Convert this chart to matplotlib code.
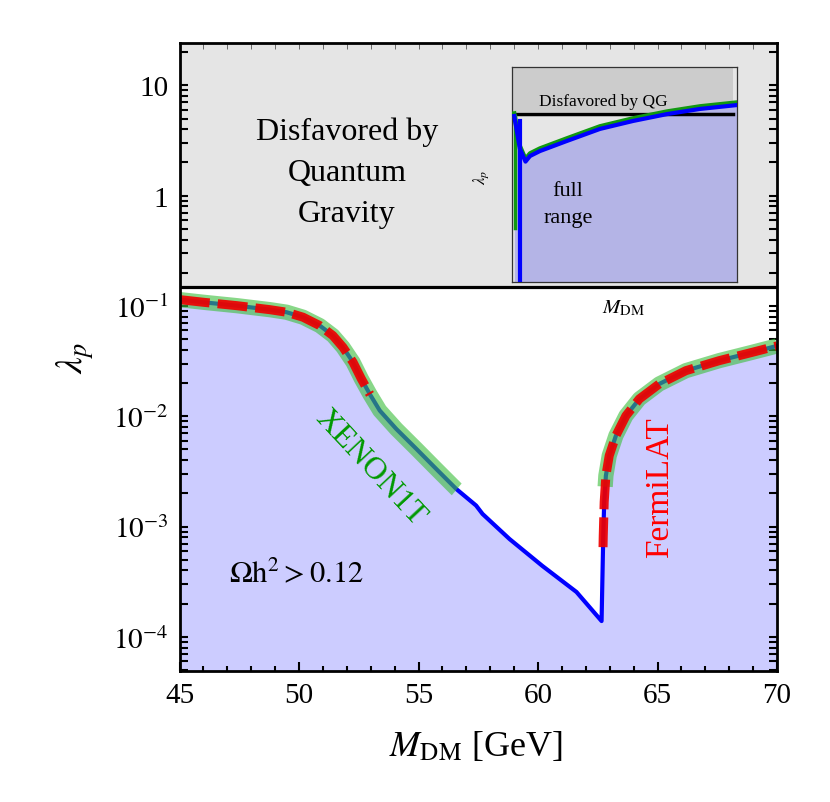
import numpy as np
import matplotlib
matplotlib.use("Agg")
import matplotlib.pyplot as plt
from matplotlib.ticker import FixedLocator, FixedFormatter, LogLocator, NullFormatter, MultipleLocator

plt.rcParams['font.family'] = ['Liberation Serif', 'DejaVu Serif']
plt.rcParams['mathtext.fontset'] = 'stix'

# ---------------- data ----------------
# relic-density boundary (blue curve)
M_DM = [45.02, 45.99, 47.39, 48.78, 49.48, 50.17, 50.87, 51.42, 51.84, 52.26,
        52.61, 52.96, 53.38, 54.07, 54.91, 55.74, 56.58, 57.41, 57.68, 58.81,
        60.18, 61.61, 62.66, 62.73, 62.77, 62.84, 62.98, 63.26, 63.68, 64.24,
        65.07, 66.19, 67.58, 68.97, 70.0]
lam_p = [0.114, 0.108, 0.1006, 0.0925, 0.0877, 0.0790, 0.0663, 0.0538, 0.0422, 0.0309,
         0.0218, 0.0159, 0.01125, 0.00767, 0.00506, 0.00333, 0.00219, 0.00155, 0.0013, 0.00077,
         0.00044, 0.000255, 0.000139, 0.00082, 0.00167, 0.00289, 0.00439, 0.00667, 0.0101, 0.01435,
         0.0196, 0.0259, 0.0319, 0.0380, 0.0434]

qg_bound = 0.148            # quantum-gravity bound on lambda_p
xenon_left_end = 56.6       # XENON1T band ends (left branch), GeV
xenon_right_start = 2.3e-3  # XENON1T band starts (right branch), lambda_p
fermi_left_end = 52.97      # FermiLAT dashed ends (left branch), GeV
fermi_right_start = 6.5e-4  # FermiLAT dashed starts (right branch), lambda_p

x_ticks = [45, 50, 55, 60, 65, 70]
y_ticks = [1e-4, 1e-3, 1e-2, 1e-1, 1, 10]
y_tick_labels = [r'$10^{-4}$', r'$10^{-3}$', r'$10^{-2}$', r'$10^{-1}$', '1', '10']
x_lim = (45, 70)
y_lim = (4.9e-5, 24.2)

# inset (schematic, full range)
inset_x = [0.01, 0.035, 0.06, 0.08, 0.124, 0.244, 0.391, 0.538, 0.689, 0.836, 1.0]
inset_y = [0.772, 0.62, 0.56, 0.586, 0.609, 0.656, 0.712, 0.749, 0.781, 0.805, 0.823]
inset_spike_x = [0.035, 0.035]
inset_spike_y = [0.0, 0.75]
inset_qg = 0.79

# ---------------- helpers ----------------
M = np.array(M_DM)
L = np.array(lam_p)
iv = int(np.argmin(L))


def left_segment(cut):
    m, l = M[:iv + 1], L[:iv + 1]
    keep = m < cut
    lc = 10 ** np.interp(cut, m, np.log10(l))
    return np.append(m[keep], cut), np.append(l[keep], lc)


def right_segment(start):
    m, l = M[iv:], L[iv:]
    keep = l > start
    mc = np.interp(np.log10(start), np.log10(l), m)
    return np.insert(m[keep], 0, mc), np.insert(l[keep], 0, start)


W, H = 830, 803


def fpos(x, y):
    return x / W, 1 - y / H


# ---------------- figure ----------------
fig = plt.figure(figsize=(W / 100, H / 100), dpi=100)
l0, r0, t0, b0 = 179.5, 777, 44, 672
ax = fig.add_axes([l0 / W, 1 - b0 / H, (r0 - l0) / W, (b0 - t0) / H])
ax.set_yscale('log')
ax.set_xlim(*x_lim)
ax.set_ylim(*y_lim)

# regions
ax.axhspan(qg_bound, y_lim[1], color='#E5E5E5', zorder=0, lw=0)
ax.fill_between(M, L, y_lim[0], color='#CCCCFF', lw=0, zorder=1)
ax.axhline(qg_bound, color='black', lw=2.3, zorder=3)

# curves
ax.plot(M, L, color='#0000FF', lw=3.0, zorder=4, solid_joinstyle='round')
green = dict(color='#3FBF3F', alpha=0.62, lw=11, zorder=5, solid_capstyle='butt',
             solid_joinstyle='round')
xm, xl = left_segment(xenon_left_end)
ax.plot(xm, xl, **green)
xm, xl = right_segment(xenon_right_start)
ax.plot(xm, xl, **green)
red = dict(color='#EE0000', alpha=0.92, lw=6.5, zorder=6, dash_capstyle='butt',
           dash_joinstyle='round', linestyle=(0, (3.3, 0.9)))
fm, fl = left_segment(fermi_left_end)
ax.plot(fm, fl, **red)
fm, fl = right_segment(fermi_right_start)
ax.plot(fm, fl, **red)

# ticks
ax.xaxis.set_major_locator(FixedLocator(x_ticks))
ax.xaxis.set_minor_locator(MultipleLocator(1))
ax.yaxis.set_major_locator(FixedLocator(y_ticks))
ax.yaxis.set_major_formatter(FixedFormatter(y_tick_labels))
ax.yaxis.set_minor_locator(LogLocator(base=10, subs=np.arange(2, 10), numticks=100))
ax.yaxis.set_minor_formatter(NullFormatter())
ax.tick_params(axis='both', which='both', direction='in', width=1.5, labelsize=21,
               colors='black')
ax.tick_params(axis='y', which='both', length=6, left=True, right=True, pad=8)
ax.tick_params(axis='x', which='major', length=6.5, top=False, pad=8)
ax.tick_params(axis='x', which='minor', length=3.8, top=False)
for s in ax.spines.values():
    s.set_linewidth(2.0)
    s.set_zorder(10)

sec = ax.secondary_xaxis('top')
sec.xaxis.set_major_locator(MultipleLocator(1))
sec.tick_params(direction='in', length=4, width=0.6, labeltop=False, colors='#555555')
sec.spines['top'].set_visible(False)

# labels
fig.text(*fpos(75, 358), r'$\lambda_p$', fontsize=27, rotation=90, ha='center', va='center')
fig.text(*fpos(476, 747), r'$M_{\rm DM}$ [GeV]', fontsize=26, ha='center', va='center')

# annotations
for txt, y in [('Disfavored by', 132), ('Quantum', 174), ('Gravity', 215)]:
    fig.text(*fpos(347, y), txt, fontsize=23, ha='center', va='center')
fig.text(*fpos(296, 574), r'$\Omega\mathrm{h}^2 > 0.12$', fontsize=22, ha='center', va='center')
fig.text(*fpos(370, 468), 'XENON1T', fontsize=23, color='#009900', rotation=-47,
         ha='center', va='center', rotation_mode='anchor')
fig.text(*fpos(660, 488), 'FermiLAT', fontsize=24, color='#FF0000', rotation=90,
         ha='center', va='center')

# ---------------- inset ----------------
ix0, ix1, iy0, iy1 = 512, 737, 68, 283
axi = fig.add_axes([ix0 / W, 1 - iy1 / H, (ix1 - ix0) / W, (iy1 - iy0) / H])
axi.set_xlim(0, 1)
axi.set_ylim(0, 1)
axi.set_facecolor('#E6E6E6')
axi.axhspan(inset_qg, 1, xmax=0.98, color='#CCCCCC', lw=0, zorder=0)
axi.fill_between(inset_x, inset_y, 0, color='#B4B4E6', lw=0, zorder=1)
axi.plot([0, 0.98], [inset_qg - 0.01, inset_qg - 0.01], color='black', lw=2.5, zorder=3)
axi.plot(np.array(inset_x), np.array(inset_y) + 0.012, color='#119911', lw=3.2, zorder=4)
axi.plot([0.012, 0.012], [0.25, 0.77], color='#119911', lw=2.5, zorder=4)
axi.plot(inset_x, inset_y, color='#0000FF', lw=3.0, zorder=5)
axi.plot(inset_spike_x, inset_spike_y, color='#0000FF', lw=3.0, zorder=5)
axi.set_xticks([])
axi.set_yticks([])
for s in axi.spines.values():
    s.set_linewidth(0.9)
    s.set_color('#333333')
fig.text(*fpos(603, 102), 'Disfavored by QG', fontsize=12.5, ha='center', va='center')
fig.text(*fpos(568, 191), 'full', fontsize=16, ha='center', va='center')
fig.text(*fpos(568, 218), 'range', fontsize=16, ha='center', va='center')
fig.text(*fpos(481, 177), r'$\lambda_p$', fontsize=12, rotation=90, ha='center', va='center')
fig.text(*fpos(623, 308), r'$M_{\rm DM}$', fontsize=15, ha='center', va='center')

fig.savefig('out.png', dpi=100)
